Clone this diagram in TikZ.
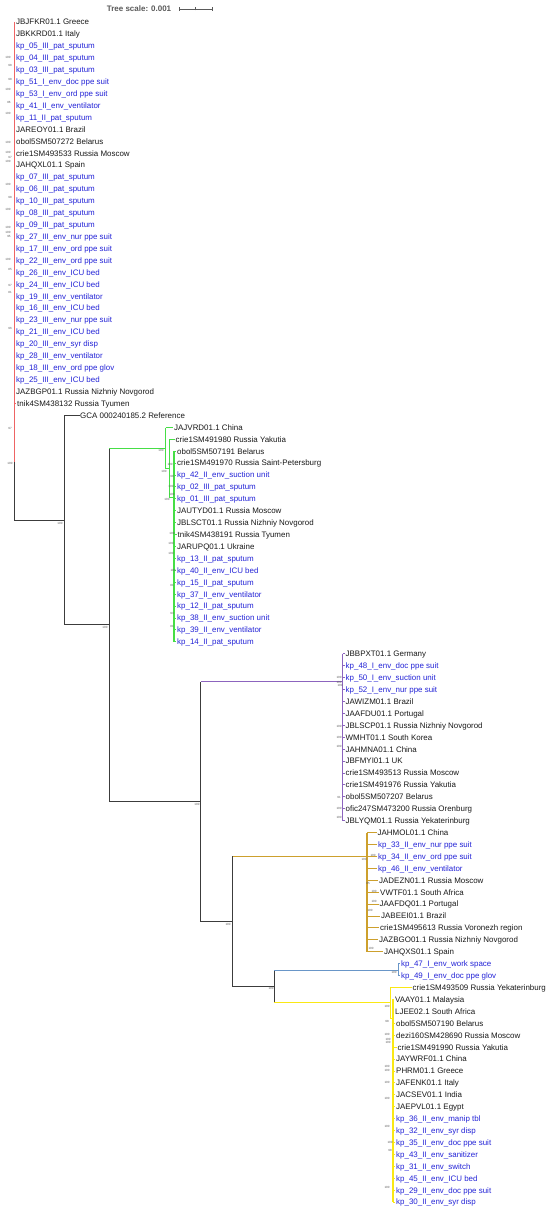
\documentclass[tikz,border=0pt]{standalone}
\usepackage{fontspec}
\setmainfont{Liberation Sans}
\definecolor{cred}{RGB}{238,100,100}
\definecolor{cgreen}{RGB}{70,222,70}
\definecolor{cpurple}{RGB}{140,100,190}
\definecolor{corange}{RGB}{205,160,45}
\definecolor{cblue}{RGB}{105,150,200}
\definecolor{cyellow}{RGB}{250,232,20}
\definecolor{cback}{RGB}{60,60,60}
\definecolor{kb}{RGB}{35,35,215}
\definecolor{kk}{RGB}{25,25,25}
\definecolor{bsg}{RGB}{90,90,90}
\tikzset{
  leaf/.style={anchor=west,inner sep=0pt,text height=5.8pt,text depth=0pt,font=\fontsize{7.95}{8}\selectfont},
  bs/.style={inner sep=0pt,font=\fontsize{3}{3}\selectfont,text=bsg},
  bk/.style={draw=cback,line width=0.8pt},
  br/.style={line width=0.9pt},
  scl/.style={inner sep=0pt,font=\bfseries\fontsize{8}{8}\selectfont,text=bsg}
}
\begin{document}
\begin{tikzpicture}[x=1pt,y=-1pt]
\useasboundingbox[fill=white] (0,0) rectangle (550,1212);
% tree scale
\node[scl] (ts) at (139,9) {Tree scale: 0.001};
\coordinate (sb1) at (179,9);
\coordinate (sb2) at (212,9);
\coordinate (sbm) at (195.5,9);
\draw[bsg,line width=0.6pt] (sb1) -- (sb2);
\draw[bsg,line width=0.6pt] ([yshift=-2pt]sb1) -- ([yshift=2pt]sb1);
\draw[bsg,line width=0.6pt] ([yshift=-2pt]sb2) -- ([yshift=2pt]sb2);
\draw[bsg,line width=0.6pt] ([yshift=-1.5pt]sbm) -- ([yshift=1.5pt]sbm);
% leaves: index / stub start / text x / colour / text colour / label
\foreach \i/\xs/\xt/\cc/\tc/\txt in {
1/14/16/cred/kk/JBJFKR01.1 Greece,
2/14/16/cred/kk/JBKKRD01.1 Italy,
3/14/16/cred/kb/kp\_05\_III\_pat\_sputum,
4/14/16/cred/kb/kp\_04\_III\_pat\_sputum,
5/14/16/cred/kb/kp\_03\_III\_pat\_sputum,
6/14/16/cred/kb/kp\_51\_I\_env\_doc ppe suit,
7/14/16/cred/kb/kp\_53\_I\_env\_ord ppe suit,
8/14/16/cred/kb/kp\_41\_II\_env\_ventilator,
9/14/16/cred/kb/kp\_11\_II\_pat\_sputum,
10/14/16/cred/kk/JAREOY01.1 Brazil,
11/14/16/cred/kk/obol5SM507272 Belarus,
12/14/16/cred/kk/crie1SM493533 Russia Moscow,
13/14/16/cred/kk/JAHQXL01.1 Spain,
14/14/16/cred/kb/kp\_07\_III\_pat\_sputum,
15/14/16/cred/kb/kp\_06\_III\_pat\_sputum,
16/14/16/cred/kb/kp\_10\_III\_pat\_sputum,
17/14/16/cred/kb/kp\_08\_III\_pat\_sputum,
18/14/16/cred/kb/kp\_09\_III\_pat\_sputum,
19/14/16/cred/kb/kp\_27\_III\_env\_nur ppe suit,
20/14/16/cred/kb/kp\_17\_III\_env\_ord ppe suit,
21/14/16/cred/kb/kp\_22\_III\_env\_ord ppe suit,
22/14/16/cred/kb/kp\_26\_III\_env\_ICU bed,
23/14/16/cred/kb/kp\_24\_III\_env\_ICU bed,
24/14/16/cred/kb/kp\_19\_III\_env\_ventilator,
25/14/16/cred/kb/kp\_16\_III\_env\_ICU bed,
26/14/16/cred/kb/kp\_23\_III\_env\_nur ppe suit,
27/14/16/cred/kb/kp\_21\_III\_env\_ICU bed,
28/14/16/cred/kb/kp\_20\_III\_env\_syr disp,
29/14/16/cred/kb/kp\_28\_III\_env\_ventilator,
30/14/16/cred/kb/kp\_18\_III\_env\_ord ppe glov,
31/14/16/cred/kb/kp\_25\_III\_env\_ICU bed,
32/14/16/cred/kk/JAZBGP01.1 Russia Nizhniy Novgorod,
33/14/17/cred/kk/tnik4SM438132 Russia Tyumen,
34/64/80/cback/kk/GCA 000240185.2 Reference,
35/165.5/174/cgreen/kk/JAJVRD01.1 China,
36/169/175.5/cgreen/kk/crie1SM491980 Russia Yakutia,
37/174/177/cgreen/kk/obol5SM507191 Belarus,
38/174/177/cgreen/kk/crie1SM491970 Russia Saint-Petersburg,
39/174/177/cgreen/kb/kp\_42\_II\_env\_suction unit,
40/174/177/cgreen/kb/kp\_02\_III\_pat\_sputum,
41/174/177/cgreen/kb/kp\_01\_III\_pat\_sputum,
42/174/177/cgreen/kk/JAUTYD01.1 Russia Moscow,
43/174/177/cgreen/kk/JBLSCT01.1 Russia Nizhniy Novgorod,
44/174/177.5/cgreen/kk/tnik4SM438191 Russia Tyumen,
45/174/177/cgreen/kk/JARUPQ01.1 Ukraine,
46/174/177/cgreen/kb/kp\_13\_II\_pat\_sputum,
47/174/177/cgreen/kb/kp\_40\_II\_env\_ICU bed,
48/174/177/cgreen/kb/kp\_15\_II\_pat\_sputum,
49/174/177/cgreen/kb/kp\_37\_II\_env\_ventilator,
50/174/177/cgreen/kb/kp\_12\_II\_pat\_sputum,
51/174/177/cgreen/kb/kp\_38\_II\_env\_suction unit,
52/174/177/cgreen/kb/kp\_39\_II\_env\_ventilator,
53/174/177/cgreen/kb/kp\_14\_II\_pat\_sputum,
54/342.7/345.5/cpurple/kk/JBBPXT01.1 Germany,
55/342.7/345.5/cpurple/kb/kp\_48\_I\_env\_doc ppe suit,
56/342.7/345.5/cpurple/kb/kp\_50\_I\_env\_suction unit,
57/342.7/345.5/cpurple/kb/kp\_52\_I\_env\_nur ppe suit,
58/342.7/345.5/cpurple/kk/JAWIZM01.1 Brazil,
59/342.7/345.5/cpurple/kk/JAAFDU01.1 Portugal,
60/342.7/345.5/cpurple/kk/JBLSCP01.1 Russia Nizhniy Novgorod,
61/342.7/345.5/cpurple/kk/WMHT01.1 South Korea,
62/342.7/345.5/cpurple/kk/JAHMNA01.1 China,
63/342.7/345.5/cpurple/kk/JBFMYI01.1 UK,
64/342.7/345.5/cpurple/kk/crie1SM493513 Russia Moscow,
65/342.7/345.5/cpurple/kk/crie1SM491976 Russia Yakutia,
66/342.7/345.5/cpurple/kk/obol5SM507207 Belarus,
67/342.7/345.5/cpurple/kk/ofic247SM473200 Russia Orenburg,
68/342.7/345.5/cpurple/kk/JBLYQM01.1 Russia Yekaterinburg,
69/367/377.5/corange/kk/JAHMOL01.1 China,
70/367/378/corange/kb/kp\_33\_II\_env\_nur ppe suit,
71/367/378/corange/kb/kp\_34\_II\_env\_ord ppe suit,
72/367/378/corange/kb/kp\_46\_II\_env\_ventilator,
73/367/379/corange/kk/JADEZN01.1 Russia Moscow,
74/367/380/corange/kk/VWTF01.1 South Africa,
75/367/379.5/corange/kk/JAAFDQ01.1 Portugal,
76/367/381/corange/kk/JABEEI01.1 Brazil,
77/367/380/corange/kk/crie1SM495613 Russia Voronezh region,
78/367/379/corange/kk/JAZBGO01.1 Russia Nizhniy Novgorod,
79/367/384/corange/kk/JAHQXS01.1 Spain,
80/398/401/cblue/kb/kp\_47\_I\_env\_work space,
81/398/401/cblue/kb/kp\_49\_I\_env\_doc ppe glov,
82/390/412.5/cyellow/kk/crie1SM493509 Russia Yekaterinburg,
83/393/395/cyellow/kk/VAAY01.1 Malaysia,
84/393/395/cyellow/kk/LJEE02.1 South Africa,
85/393/396/cyellow/kk/obol5SM507190 Belarus,
86/393/396/cyellow/kk/dezi160SM428690 Russia Moscow,
87/393/397.5/cyellow/kk/crie1SM491990 Russia Yakutia,
88/393/396/cyellow/kk/JAYWRF01.1 China,
89/393/396/cyellow/kk/PHRM01.1 Greece,
90/393/396/cyellow/kk/JAFENK01.1 Italy,
91/393/396/cyellow/kk/JACSEV01.1 India,
92/393/396/cyellow/kk/JAEPVL01.1 Egypt,
93/393/396/cyellow/kb/kp\_36\_II\_env\_manip tbl,
94/393/396/cyellow/kb/kp\_32\_II\_env\_syr disp,
95/393/396/cyellow/kb/kp\_35\_II\_env\_doc ppe suit,
96/393/396/cyellow/kb/kp\_43\_II\_env\_sanitizer,
97/393/396/cyellow/kb/kp\_31\_II\_env\_switch,
98/393/396/cyellow/kb/kp\_45\_II\_env\_ICU bed,
99/393/396/cyellow/kb/kp\_29\_II\_env\_doc ppe suit,
100/393/396/cyellow/kb/kp\_30\_II\_env\_syr disp}{
  \pgfmathsetmacro\yy{22+(\i-1)*11.92}
  \node[leaf,text=\tc] (l\i) at (\xt,\yy) {\txt};
  \draw[br,draw=\cc] (\xs,\yy) -- ([xshift=-1pt]l\i.west);
}
% internal nodes
\coordinate (Rn) at (14,462);
\coordinate (N1) at (64,520);
\coordinate (N2) at (109,624.5);
\coordinate (G) at (165.5,448);
\coordinate (N3) at (200.7,801);
\coordinate (P) at (342.7,681.7);
\coordinate (N4) at (232.7,921);
\coordinate (O) at (367,856);
\coordinate (N5) at (274.3,986);
\coordinate (B) at (398,970);
\coordinate (Y) at (390,1002.7);
% red clade
\draw[br,draw=cred] (14,22) -- (Rn);
% backbone
\draw[bk] (Rn) |- (N1);
\draw[bk] (N1) |- (l34.west);
\draw[bk] (N1) |- (N2);
\draw[bk] (N2) -- (N2 |- G);
\draw[br,draw=cgreen] (N2 |- G) -- (G);
\draw[bk] (N2) |- (N3);
\draw[bk] (N3) -- (N3 |- P);
\draw[br,draw=cpurple] (N3 |- P) -- (P);
\draw[bk] (N3) |- (N4);
\draw[bk] (N4) -- (N4 |- O);
\draw[br,draw=corange] (N4 |- O) -- (O);
\draw[bk] (N4) |- (N5);
\draw[bk] (N5) -- (N5 |- B);
\draw[br,draw=cblue] (N5 |- B) -- (B);
\draw[bk] (N5) -- (N5 |- Y);
\draw[br,draw=cyellow] (N5 |- Y) -- (Y);
% green clade internals
\draw[br,draw=cgreen] (165.5,427.7) -- (165.5,468) -- (169,468);
\draw[br,draw=cgreen] (169,439.6) -- (169,497) -- (174,497);
\draw[line width=1.2pt,draw=cgreen] (174,451.1) -- (174,641.8);
% purple
\draw[line width=1.2pt,draw=cpurple] (342.7,653.8) -- (342.7,820.6);
% orange
\draw[line width=1.2pt,draw=corange] (367,832.6) -- (367,951.8);
% blue
\draw[br,draw=cblue] (398,963.7) -- (398,975.6);
% yellow
\draw[br,draw=cyellow] (390,987.5) -- (390,1018) -- (393,1018);
\draw[line width=1.2pt,draw=cyellow] (393,999.4) -- (393,1202.1);
% bootstrap values
\foreach \x/\y/\t [count=\n] in {
8/57/100,10/65/98,10/79/98,8/89/100,9/102/86,8/113/100,8/142/100,8/152/100,10/157/97,8/161/100,
8/184/100,10/197/98,8/209/100,8/227/100,8/232/100,9/236/95,8/259/100,10/269/85,10/285/97,10/292/81,
10/328/96,10/428/97,10/463/100,
60/523/100,105/627/100,197/804/100,228/924/100,271/988/100,
161/450/100,170/464/100,164/471/100,172/476/98,171/486/100,172/494/100,167/499/100,
172/533/100,171/543/100,171/553/100,173/570/100,172/585/81,172/613/93,172/626/81,
339/677/100,339/682/100,340/685/100,339/726/100,339/737/100,339/746/100,339/797/91,339/808/100,339/817/100,
364/859/100,373/855/100,368/883/85,374/891/100,374/901/100,370/910/100,371/948/100,
394/972/100,
387/1006/100,387/1021/98,387/1034/100,388/1039/100,388/1042/100,387/1066/100,387/1070/100,
387/1082/100,387/1098/100,387/1126/100,390/1142/100,390/1150/98,387/1187/100}{
  \node[bs] (b\n) at (\x,\y) {\t};
}
\end{tikzpicture}
\end{document}
